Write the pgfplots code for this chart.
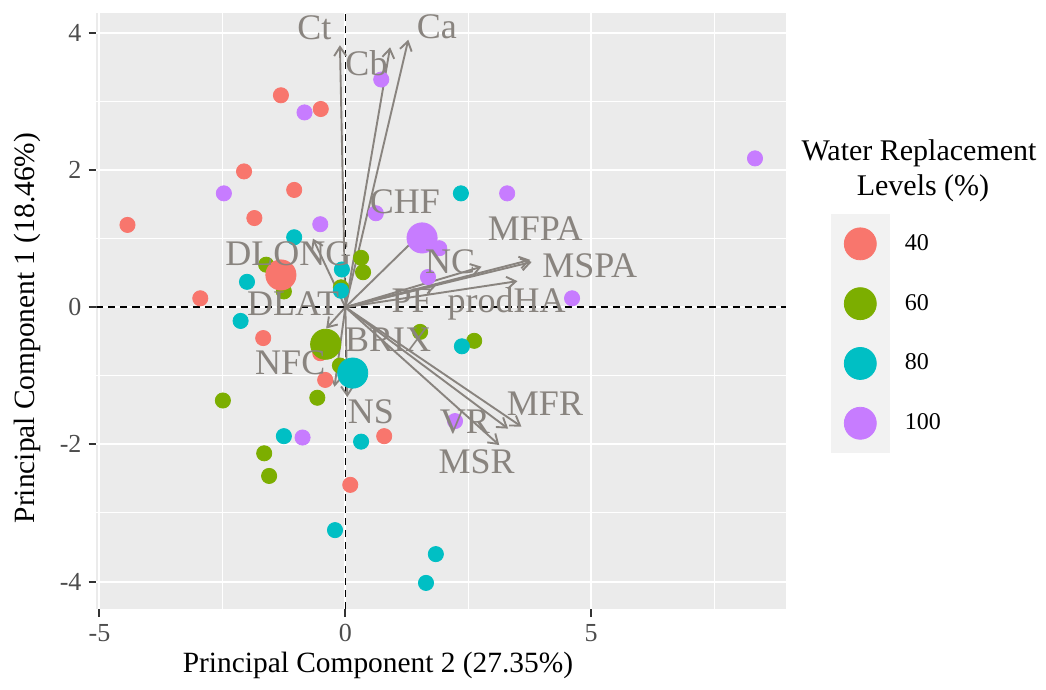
\documentclass[border=0pt]{standalone}
\usepackage{fontspec}
\setmainfont{Liberation Serif}
\usepackage{pgfplots}
\pgfplotsset{compat=1.18}
\usetikzlibrary{arrows.meta}

\definecolor{c40}{HTML}{F8766D}
\definecolor{c60}{HTML}{7CAE00}
\definecolor{c80}{HTML}{00BFC4}
\definecolor{c100}{HTML}{C77CFF}
\definecolor{panelbg}{HTML}{EBEBEB}
\definecolor{keybg}{HTML}{F2F2F2}
\definecolor{vecgray}{RGB}{137,132,127}
\definecolor{tickgray}{HTML}{4D4D4D}
\definecolor{tickline}{HTML}{333333}

% PCA scores by water replacement level (PC2, PC1)
\pgfplotstableread{
x y
-4.43 1.20
-2.95 0.13
-2.06 1.98
-1.85 1.30
-1.31 3.09
-1.04 1.71
-0.50 2.89
-1.67 -0.45
-0.41 -1.06
-0.51 -0.67
0.79 -1.88
0.10 -2.59
}\wrForty
\pgfplotstableread{
x y
-1.61 0.62
-1.25 0.23
0.32 0.72
0.36 0.51
-0.09 0.29
-2.49 -1.36
-0.57 -1.32
-1.65 -2.13
-1.55 -2.46
1.52 -0.36
2.62 -0.49
-0.11 -0.85
}\wrSixty
\pgfplotstableread{
x y
-1.04 1.02
-2.00 0.37
-0.07 0.55
-0.09 0.24
-2.13 -0.20
-1.25 -1.88
0.32 -1.96
-0.21 -3.25
1.84 -3.60
1.64 -4.02
2.37 -0.57
2.35 1.66
}\wrEighty
\pgfplotstableread{
x y
-2.47 1.66
-0.83 2.84
-0.51 1.21
0.73 3.32
0.62 1.37
3.29 1.66
1.91 0.86
1.68 0.44
4.61 0.13
8.33 2.17
-0.87 -1.90
2.23 -1.66
}\wrHundred
% group means
\pgfplotstableread{
x y grp
-1.31 0.47 40
-0.40 -0.54 60
0.15 -0.96 80
1.56 1.01 100
}\wrMeans
% variable loadings (arrow ends)
\pgfplotstableread{
x y u v
0 0 -0.11 3.82
0 0 0.91 3.79
0 0 1.28 3.90
0 0 1.67 1.17
0 0 3.76 0.69
0 0 3.79 0.66
0 0 2.77 0.59
0 0 1.85 0.32
0 0 3.50 0.38
0 0 3.58 -1.74
0 0 3.31 -1.77
0 0 3.13 -2.01
0 0 0.04 -1.31
0 0 -0.22 -1.16
0 0 -0.39 -0.31
0 0 -0.66 1.00
}\loadings
% variable names
\pgfplotstableread{
x y lab
-0.63 4.00 Ct
0.43 3.48 Cb
1.86 4.01 Ca
1.21 1.46 CHF
3.86 1.07 MFPA
4.97 0.53 MSPA
2.13 0.59 NC
1.35 0.02 PF
3.28 0.02 prodHA
4.06 -1.48 MFR
2.43 -1.74 VR
2.67 -2.33 MSR
0.52 -1.60 NS
-1.12 -0.89 NFC
-1.06 -0.03 DLAT
-1.16 0.71 DLONG
0.87 -0.55 BRIX
}\varnames

\begin{document}
\begin{tikzpicture}
\useasboundingbox (-48.25pt,-40.5pt) rectangle (474.75pt,304.5pt);
\begin{axis}[
  scale only axis, width=345pt, height=298pt,
  xmin=-5.06, xmax=8.97, ymin=-4.40, ymax=4.29,
  axis background/.style={fill=panelbg},
  axis line style={draw=none},
  xtick={-5,0,5}, xticklabels={-5,0,5},
  ytick={-4,-2,0,2,4}, yticklabels={-4,-2,0,2,4},
  minor xtick={-2.5,2.5,7.5}, minor ytick={-3,-1,1,3},
  grid=both,
  major grid style={white, line width=1pt},
  minor grid style={white, line width=0.5pt},
  tick pos=left, tick align=outside,
  major tick length=4pt, minor tick length=0pt,
  major tick style={tickline, line width=1pt},
  ticklabel style={font=\fontsize{13}{15}\selectfont, text=tickgray},
  legend style={at={(1.0641,0.6628)}, anchor=north west, draw=none, fill=none,
    inner sep=0pt, outer sep=0pt, row sep=0pt, column sep=7.5pt,
    nodes={inner sep=0pt},
    font=\fontsize{12}{14}\selectfont},
  legend cell align=left,
  legkey/.style={legend image code/.code={
    \fill[keybg] (-14.6pt,-14.75pt) rectangle (14.6pt,14.75pt);
    \fill[#1] (0pt,0pt) circle (8pt);}},
  dot/.style={only marks, mark=*, mark size=3.8pt, forget plot, color=#1,
    mark options={line width=0.4pt}},
  meandot/.style={only marks, mark=*, mark size=7.55pt, forget plot, color=#1,
    mark options={line width=0.4pt}},
]
% reference lines through the origin
\addplot[black, line width=0.8pt, dash pattern=on 3.5pt off 2.5pt, forget plot]
  coordinates {(0,-4.40) (0,4.29)};
\addplot[black, line width=0.8pt, dash pattern=on 3.5pt off 2.5pt, forget plot]
  coordinates {(-5.06,0) (8.97,0)};

% individual scores
\addplot[dot=c40] table {\wrForty};
\addplot[dot=c60] table {\wrSixty};
\addplot[dot=c80] table {\wrEighty};
\addplot[dot=c100] table {\wrHundred};

% group means
\addplot[meandot=c40] table[restrict expr to domain={\thisrow{grp}}{40:40}] {\wrMeans};
\addplot[meandot=c60] table[restrict expr to domain={\thisrow{grp}}{60:60}] {\wrMeans};
\addplot[meandot=c80] table[restrict expr to domain={\thisrow{grp}}{80:80}] {\wrMeans};
\addplot[meandot=c100] table[restrict expr to domain={\thisrow{grp}}{100:100}] {\wrMeans};

% variable vectors
\addplot[vecgray, line width=0.95pt, -{Straight Barb[length=4.5pt, width=6pt]},
  quiver={u=\thisrow{u}, v=\thisrow{v}}, forget plot] table {\loadings};

% variable names
\addplot[draw=none, mark=none, forget plot, nodes near coords,
  point meta=explicit symbolic,
  nodes near coords style={anchor=center, inner sep=0pt, text=vecgray,
    text height=0.66em, text depth=0pt, font=\fontsize{18}{18}\selectfont}]
  table[meta=lab] {\varnames};

\addlegendimage{legkey=c40}\addlegendentry{40}
\addlegendimage{legkey=c60}\addlegendentry{60}
\addlegendimage{legkey=c80}\addlegendentry{80}
\addlegendimage{legkey=c100}\addlegendentry{100}
\end{axis}

% axis titles
\node[font=\fontsize{14.7}{17}\selectfont] at (140.75pt,-28pt) {Principal Component 2 (27.35\%)};
\node[font=\fontsize{14.7}{17}\selectfont, rotate=90] at (-34.75pt,140.5pt) {Principal Component 1 (18.46\%)};
% legend title
\node[font=\fontsize{15}{17}\selectfont] at (411.25pt,228pt) {Water Replacement};
\node[font=\fontsize{15}{17}\selectfont] at (413.25pt,210.5pt) {Levels (\%)};
\end{tikzpicture}
\end{document}
